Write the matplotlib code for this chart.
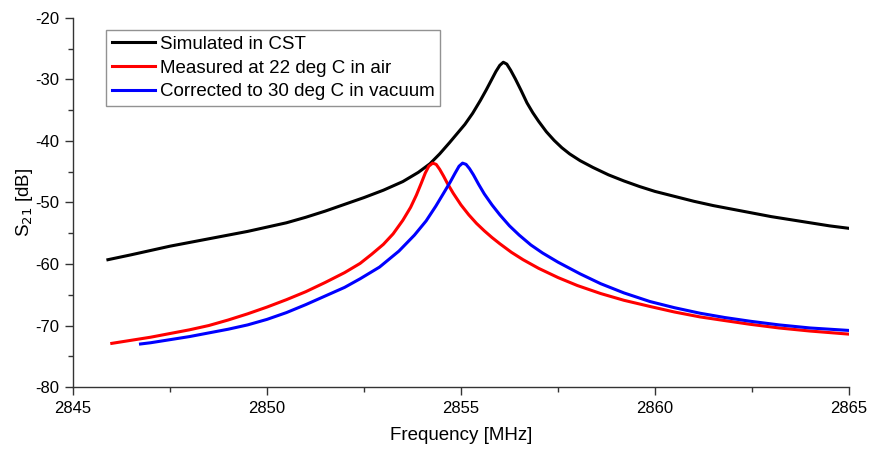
import matplotlib
matplotlib.use("Agg")
import matplotlib.pyplot as plt
from matplotlib.ticker import MultipleLocator

plt.rcParams["font.family"] = ["Liberation Sans", "DejaVu Sans"]
plt.rcParams["axes.unicode_minus"] = False

# --- values ---
sim_freq = [2845.9, 2846.5, 2847.0, 2847.5, 2848.0, 2848.5, 2849.0, 2849.5, 2850.0,
            2850.5, 2851.0, 2851.5, 2852.0, 2852.5, 2853.0, 2853.5, 2853.9, 2854.2,
            2854.45, 2854.7, 2854.9, 2855.1, 2855.3, 2855.5, 2855.65, 2855.8, 2855.9,
            2856.0, 2856.09, 2856.18, 2856.28, 2856.4, 2856.55, 2856.7, 2856.85,
            2857.0, 2857.2, 2857.4, 2857.6, 2857.8, 2858.07, 2858.4, 2858.8, 2859.2,
            2859.6, 2860.0, 2860.5, 2861.0, 2861.5, 2862.0, 2862.5, 2863.0, 2863.5,
            2864.0, 2864.5, 2865.0]
sim_db = [-59.3, -58.5, -57.8, -57.1, -56.5, -55.9, -55.3, -54.7, -54.0,
          -53.3, -52.4, -51.4, -50.3, -49.2, -48.0, -46.6, -45.1, -43.7,
          -42.1, -40.3, -38.8, -37.3, -35.5, -33.4, -31.7, -29.9, -28.7,
          -27.7, -27.2, -27.5, -28.5, -29.9, -31.8, -33.8, -35.4,
          -36.8, -38.5, -39.9, -41.1, -42.1, -43.2, -44.3, -45.5, -46.5,
          -47.4, -48.2, -49.0, -49.8, -50.5, -51.1, -51.7, -52.3, -52.8,
          -53.3, -53.8, -54.2]

air_freq = [2846.0, 2846.5, 2847.0, 2847.5, 2848.0, 2848.5, 2849.0, 2849.5, 2850.0,
            2850.5, 2851.0, 2851.5, 2852.0, 2852.4, 2852.7, 2853.0, 2853.25, 2853.5,
            2853.7, 2853.85, 2853.98, 2854.08, 2854.17, 2854.27, 2854.36, 2854.45,
            2854.55, 2854.65, 2854.8, 2855.0, 2855.2, 2855.4, 2855.6, 2855.8, 2856.0,
            2856.3, 2856.6, 2857.0, 2857.5, 2858.0, 2858.6, 2859.2, 2859.87, 2860.5,
            2861.16, 2861.8, 2862.45, 2863.2, 2864.0, 2865.0]
air_db = [-72.9, -72.4, -71.9, -71.3, -70.7, -70.0, -69.1, -68.1, -67.0,
          -65.8, -64.5, -63.0, -61.4, -59.9, -58.4, -56.8, -55.1, -52.9,
          -50.8, -48.8, -46.8, -45.2, -44.1, -43.6, -43.8, -44.6,
          -45.7, -46.9, -48.5, -50.4, -52.0, -53.4, -54.6, -55.7, -56.7,
          -58.1, -59.3, -60.7, -62.2, -63.5, -64.8, -65.9, -66.9, -67.8,
          -68.6, -69.2, -69.8, -70.4, -70.9, -71.4]

vac_freq = [2846.74, 2847.0, 2847.5, 2848.0, 2848.5, 2849.0, 2849.5, 2850.0, 2850.5,
            2851.0, 2851.5, 2852.0, 2852.4, 2852.9, 2853.4, 2853.8, 2854.1, 2854.35,
            2854.55, 2854.72, 2854.85, 2854.95, 2855.04, 2855.13, 2855.22, 2855.32,
            2855.45, 2855.6, 2855.8, 2856.0, 2856.25, 2856.5, 2856.8, 2857.1, 2857.5,
            2858.07, 2858.6, 2859.2, 2859.87, 2860.5, 2861.16, 2861.8, 2862.45,
            2863.2, 2864.0, 2865.0]
vac_db = [-73.0, -72.8, -72.3, -71.8, -71.2, -70.6, -69.9, -69.0, -67.9,
          -66.6, -65.2, -63.8, -62.4, -60.5, -57.9, -55.3, -53.0, -50.6,
          -48.5, -46.7, -45.2, -44.1, -43.6, -43.8, -44.5, -45.5,
          -47.0, -48.6, -50.4, -52.0, -53.8, -55.3, -56.9, -58.2, -59.7,
          -61.6, -63.2, -64.7, -66.1, -67.1, -68.0, -68.7, -69.3,
          -69.9, -70.4, -70.8]

labels = ["Simulated in CST", "Measured at 22 deg C in air",
          "Corrected to 30 deg C in vacuum"]

fig = plt.figure(figsize=(8.69, 4.49), dpi=100)
ax = fig.add_axes([0.084, 0.138, 0.893, 0.822])

ax.plot(sim_freq, sim_db, color="black", lw=2.2, label=labels[0])
ax.plot(air_freq, air_db, color="#ff0000", lw=2.2, label=labels[1])
ax.plot(vac_freq, vac_db, color="#0000ff", lw=2.2, label=labels[2])

ax.set_xlim(2845, 2865)
ax.set_ylim(-80, -20)
ax.xaxis.set_major_locator(MultipleLocator(5))
ax.xaxis.set_minor_locator(MultipleLocator(2.5))
ax.yaxis.set_major_locator(MultipleLocator(10))
ax.yaxis.set_minor_locator(MultipleLocator(5))

for side in ("top", "right"):
    ax.spines[side].set_visible(False)
for side in ("left", "bottom"):
    ax.spines[side].set_color("#333333")
    ax.spines[side].set_linewidth(1.0)

ax.tick_params(which="major", direction="out", length=6, width=1.0,
               color="#333333", labelsize=12, pad=4)
ax.tick_params(which="minor", direction="out", length=3.5, width=1.0,
               color="#333333")

ax.set_xlabel("Frequency [MHz]", fontsize=13.5, labelpad=8)
ax.set_ylabel("S$_{21}$ [dB]", fontsize=13.5, labelpad=0)

leg = ax.legend(loc="upper left", bbox_to_anchor=(0.043, 0.967), fontsize=13.5,
                frameon=True, fancybox=False, handlelength=2.3,
                borderpad=0.3, labelspacing=0.35, handletextpad=0.25,
                borderaxespad=0)
leg.get_frame().set_edgecolor("#777777")
leg.get_frame().set_linewidth(1.0)

fig.savefig("out.png", dpi=100)
